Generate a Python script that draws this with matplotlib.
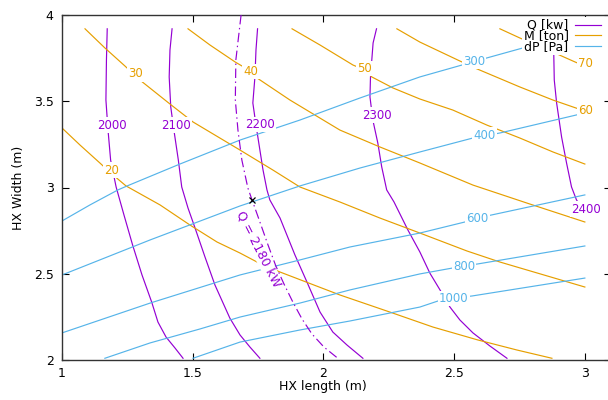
import numpy as np
import matplotlib.pyplot as plt

PURPLE = '#9400d3'
ORANGE = '#e69f00'
BLUE = '#56b4e9'

# heat duty Q [kW] contour lines
q_levels = [2000, 2100, 2200, 2300, 2400]
q_x = [
    [1.173, 1.170, 1.168, 1.176, 1.186, 1.207, 1.237, 1.270, 1.306, 1.343, 1.367, 1.398, 1.432, 1.463],
    [1.421, 1.413, 1.410, 1.416, 1.428, 1.445, 1.458, 1.482, 1.509, 1.547, 1.585, 1.642, 1.681, 1.719, 1.757],
    [1.748, 1.742, 1.738, 1.730, 1.742, 1.757, 1.769, 1.784, 1.795, 1.834, 1.891, 1.937, 1.987, 2.036, 2.090, 2.151],
    [2.203, 2.190, 2.180, 2.178, 2.189, 2.208, 2.223, 2.242, 2.270, 2.323, 2.369, 2.407, 2.446, 2.484, 2.522, 2.572, 2.637, 2.702],
    [2.893, 2.881, 2.883, 2.892, 2.911, 2.930, 2.949, 2.968, 3.0],
]
q_y = [
    [3.92, 3.739, 3.507, 3.333, 3.159, 3.003, 2.841, 2.667, 2.493, 2.336, 2.220, 2.133, 2.070, 2.01],
    [3.92, 3.797, 3.641, 3.467, 3.333, 3.159, 3.003, 2.881, 2.765, 2.597, 2.435, 2.243, 2.145, 2.075, 2.01],
    [3.92, 3.797, 3.641, 3.490, 3.362, 3.217, 3.101, 2.986, 2.928, 2.823, 2.609, 2.452, 2.278, 2.162, 2.087, 2.01],
    [3.92, 3.838, 3.641, 3.525, 3.391, 3.258, 3.119, 2.986, 2.916, 2.754, 2.626, 2.504, 2.406, 2.307, 2.232, 2.157, 2.081, 2.01],
    [3.92, 3.780, 3.623, 3.490, 3.293, 3.142, 3.003, 2.928, 2.858],
]
q_label_xy = [(1.191, 3.362), (1.436, 3.362), (1.759, 3.365), (2.203, 3.420), (3.004, 2.875)]

# target duty line
q_target = 2180
q_target_x = [1.685, 1.665, 1.663, 1.673, 1.688, 1.711, 1.727, 1.757, 1.788, 1.818, 1.849, 1.883, 1.918, 1.956, 2.002, 2.055]
q_target_y = [4.0, 3.739, 3.507, 3.333, 3.159, 2.997, 2.928, 2.800, 2.667, 2.545, 2.441, 2.336, 2.238, 2.151, 2.075, 2.01]
design_x = 1.727
design_y = 2.928

# mass M [ton] contour lines
m_levels = [20, 30, 40, 50, 60, 70]
m_x = [
    [1.0, 1.069, 1.145, 1.191, 1.245, 1.375, 1.489, 1.593, 1.681, 1.746, 1.834, 2.063, 2.254, 2.419, 2.591, 2.740, 2.874],
    [1.088, 1.164, 1.241, 1.298, 1.413, 1.501, 1.681, 1.807, 1.910, 2.063, 2.216, 2.369, 2.549, 2.675, 3.0],
    [1.482, 1.566, 1.662, 1.727, 1.746, 1.872, 2.063, 2.216, 2.369, 2.572, 2.790, 3.0],
    [1.880, 1.987, 2.113, 2.159, 2.185, 2.266, 2.369, 2.495, 2.625, 2.751, 2.878, 3.0],
    [2.281, 2.369, 2.514, 2.579, 2.751, 2.878, 3.0],
    [2.675, 2.751, 2.885, 2.962, 3.0],
]
m_y = [
    [3.345, 3.246, 3.142, 3.078, 3.009, 2.899, 2.783, 2.684, 2.620, 2.568, 2.510, 2.377, 2.278, 2.191, 2.116, 2.058, 2.01],
    [3.92, 3.809, 3.704, 3.623, 3.484, 3.380, 3.217, 3.101, 3.003, 2.916, 2.823, 2.736, 2.632, 2.568, 2.423],
    [3.92, 3.826, 3.728, 3.670, 3.635, 3.507, 3.333, 3.235, 3.142, 3.014, 2.904, 2.800],
    [3.92, 3.826, 3.710, 3.681, 3.641, 3.577, 3.513, 3.449, 3.362, 3.287, 3.206, 3.136],
    [3.92, 3.843, 3.739, 3.693, 3.583, 3.507, 3.443],
    [3.92, 3.867, 3.780, 3.728, 3.704],
]
m_label_xy = [(1.190, 3.101), (1.282, 3.658), (1.723, 3.673), (2.159, 3.689), (3.003, 3.446), (3.003, 3.717)]

# pressure drop dP [Pa] contour lines
dp_levels = [300, 400, 600, 800, 1000]
dp_x = [
    [1.0, 1.107, 1.214, 1.249, 1.451, 1.681, 1.910, 2.140, 2.369, 2.572, 2.625, 2.763, 3.0],
    [1.0, 1.337, 1.681, 1.910, 2.140, 2.369, 2.572, 2.675, 3.0],
    [1.0, 1.337, 1.681, 1.910, 2.101, 2.369, 2.541, 2.587, 2.644, 3.0],
    [1.164, 1.337, 1.528, 1.681, 1.910, 2.101, 2.369, 2.537, 2.591, 3.0],
    [1.501, 1.681, 1.910, 2.101, 2.369, 2.438, 2.495, 2.568, 3.0],
]
dp_y = [
    [2.806, 2.899, 2.986, 3.009, 3.136, 3.275, 3.391, 3.519, 3.641, 3.728, 3.751, 3.809, 3.896],
    [2.493, 2.696, 2.893, 3.009, 3.113, 3.206, 3.287, 3.316, 3.432],
    [2.157, 2.330, 2.493, 2.580, 2.655, 2.736, 2.800, 2.823, 2.841, 2.957],
    [2.01, 2.099, 2.180, 2.249, 2.330, 2.406, 2.499, 2.545, 2.557, 2.661],
    [2.01, 2.104, 2.174, 2.226, 2.307, 2.342, 2.359, 2.371, 2.475],
]
dp_label_xy = [(2.576, 3.729), (2.615, 3.304), (2.589, 2.819), (2.538, 2.541), (2.499, 2.357)]

xticks = [1, 1.5, 2, 2.5, 3]
yticks = [2, 2.5, 3, 3.5, 4]


def draw_family(ax, levels, xs, ys, label_xy, color, name):
    handle = None
    for lev, x, y, (lx, ly) in zip(levels, xs, ys, label_xy):
        ln, = ax.plot(x, y, color=color, lw=0.85, zorder=2)
        if handle is None:
            handle = ln
        ax.text(lx, ly, str(lev), color=color, fontsize=8.5, ha='center', va='center',
                zorder=3, bbox=dict(boxstyle='square,pad=0.1', fc='white', ec='none'))
    handle.set_label(name)
    return handle


fig = plt.figure(figsize=(6.08, 4.0), dpi=100)
ax = fig.add_axes([62 / 608, 40 / 400, 549 / 608, 345 / 400])

h_q = draw_family(ax, q_levels, q_x, q_y, q_label_xy, PURPLE, 'Q [kw]')
h_m = draw_family(ax, m_levels, m_x, m_y, m_label_xy, ORANGE, 'M [ton]')
h_dp = draw_family(ax, dp_levels, dp_x, dp_y, dp_label_xy, BLUE, 'dP [Pa]')

ax.plot(q_target_x, q_target_y, color=PURPLE, lw=0.85, ls=(0, (8, 3, 1.2, 3)), zorder=4)
ax.plot([design_x], [design_y], marker='x', color='black', ms=4, mew=0.9, zorder=5)
ax.text(1.751, 2.641, 'Q = %d kW' % q_target, color=PURPLE, fontsize=9, rotation=-63,
        ha='center', va='center', rotation_mode='anchor', zorder=3,
        bbox=dict(boxstyle='square,pad=0.05', fc='white', ec='none'))

ax.set_xlim(1, 3.1)
ax.set_ylim(2, 4)
ax.set_xticks(xticks)
ax.set_xticklabels(['1', '1.5', '2', '2.5', '3'])
ax.set_yticks(yticks)
ax.set_yticklabels(['2', '2.5', '3', '3.5', '4'])
ax.tick_params(direction='in', length=5, width=0.8, top=True, right=True,
               labelsize=9, colors='black')
ax.tick_params(axis='y', pad=6)
ax.tick_params(axis='x', pad=5)
for sp in ax.spines.values():
    sp.set_color('#333333')
    sp.set_linewidth(1.0)

ax.set_xlabel('HX length (m)', fontsize=9)
ax.xaxis.set_label_coords(261 / 549, -0.058)
ax.set_ylabel('HX Width (m)', fontsize=9)
ax.yaxis.set_label_coords(-0.067, 0.5)

leg = ax.legend(handles=[h_q, h_m, h_dp], loc='upper right',
                bbox_to_anchor=(603 / 608, 1 - 17 / 400), bbox_transform=fig.transFigure,
                markerfirst=False, fontsize=9, labelspacing=-0.2, handlelength=2.1,
                handletextpad=0.5, borderpad=0.15, borderaxespad=0, fancybox=False,
                frameon=True, facecolor='white', edgecolor='none', framealpha=1)
leg.set_zorder(6)

fig.savefig('out.png', dpi=100)
